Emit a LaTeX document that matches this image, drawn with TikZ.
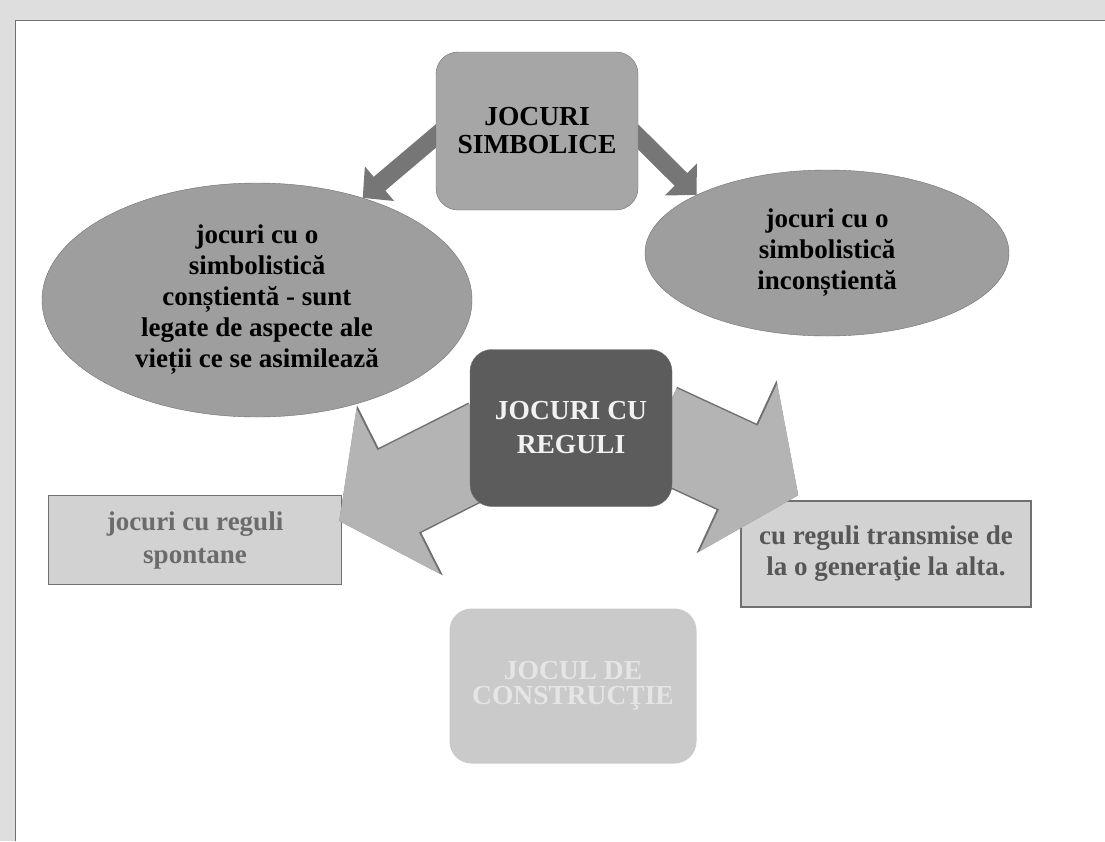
\documentclass[tikz,border=0pt]{standalone}
\usepackage{fontspec}
\setmainfont{Liberation Serif}
\usepackage{tikz}
\usetikzlibrary{positioning, arrows.meta, shapes.geometric}
\pgfdeclarelayer{background}
\pgfdeclarelayer{foreground}
\pgfsetlayers{background,main,foreground}
\definecolor{scangray}{HTML}{DEDEDE}
\definecolor{edgegray}{HTML}{707070}
\definecolor{boxgray}{HTML}{A6A6A6}
\definecolor{ellgray}{HTML}{9E9E9E}
\definecolor{rulegray}{HTML}{5C5C5C}
\definecolor{palegray}{HTML}{D2D2D2}
\definecolor{blockgray}{HTML}{B4B4B4}
\definecolor{consgray}{HTML}{CACACA}
\definecolor{sarrowgray}{HTML}{767676}
\tikzstyle{rblock} = [rectangle, draw=edgegray, fill=boxgray, align=center,
rounded corners=22pt, minimum width=202pt, minimum height=158pt,
font=\fontsize{27.5}{28}\selectfont\bfseries]
\tikzstyle{eblock} = [ellipse, draw=edgegray, fill=ellgray, align=center, inner sep=0pt]
\tikzstyle{sblock} = [rectangle, draw=edgegray, line width=1.5pt, fill=palegray, align=center]
\tikzstyle{thinarrow} = [draw=sarrowgray, line width=18pt, -{Triangle[length=22pt,width=44pt]}]
\tikzstyle{fatarrow} = [draw=blockgray, line width=92pt, -{Triangle[length=66pt,width=182pt]},
preaction={draw=edgegray, line width=95pt, -{Triangle[length=68pt,width=187pt]}}]

\begin{document}
\begin{tikzpicture}[x=1pt, y=-1pt, node distance=100pt]
        \tikzstyle{every node}=[font=\fontsize{27}{31}\selectfont\bfseries]
        \useasboundingbox (0,0) rectangle (1105,841);
        % scanned page edge
        \fill [scangray] (0,0) rectangle (1105,20);
        \fill [scangray] (0,0) rectangle (15,841);
        \draw [edgegray, line width=1.5pt] (15.5,841) -- (15.5,20.5) -- (1105,20.5);

        \node (simb) [rblock] at (537,131) {JOCURI\\SIMBOLICE};
        \node (consc) [eblock, below of=simb, node distance=169pt, xshift=-280pt, minimum width=430pt, minimum height=234pt] {jocuri cu o\\simbolistică\\conștientă - sunt\\legate de aspecte ale\\vieții ce se asimilează};
        \node (incons) [eblock, below of=simb, node distance=122pt, xshift=290pt, minimum width=364pt, minimum height=166pt] {jocuri cu o\\simbolistică\\inconștientă};
        \begin{pgfonlayer}{foreground}
        \node (regul) [rblock, fill=rulegray, text=white!95!black, below of=simb, node distance=297pt, xshift=34pt, minimum height=157pt, font=\fontsize{27.5}{34}\selectfont\bfseries] {JOCURI CU\\REGULI};
        \end{pgfonlayer}
        \node (spont) [sblock, text=black!58, below of=regul, node distance=112pt, xshift=-376pt, minimum width=293pt, minimum height=89pt, font=\fontsize{27}{33}\selectfont\bfseries] {jocuri cu reguli\\spontane};
        \node (trans) [sblock, text=black!66, below of=regul, node distance=126pt, xshift=315pt, minimum width=290pt, minimum height=106pt] {cu reguli transmise de\\la o generaţie la alta.};
        \node (cons) [rblock, draw=none, fill=consgray, text=white!90!black, below of=regul, node distance=258pt, xshift=2pt, minimum width=247pt, minimum height=155pt, font=\fontsize{27.5}{25}\selectfont\bfseries] {JOCUL DE\\CONSTRUCŢIE};

        \begin{pgfonlayer}{background}
        \draw [thinarrow] ([xshift=6pt]simb.west) -- (consc.44);
        \draw [thinarrow] ([xshift=-6pt]simb.east) -- (incons.156);
        \end{pgfonlayer}
        \draw [fatarrow] ([xshift=20pt,yshift=-17pt]regul.west) -- ([xshift=-3pt,yshift=19pt]spont.east);
        \draw [fatarrow] ([xshift=-15pt,yshift=-2pt]regul.east) -- ([xshift=58pt,yshift=5pt]trans.north west);
\end{tikzpicture}
\end{document}
